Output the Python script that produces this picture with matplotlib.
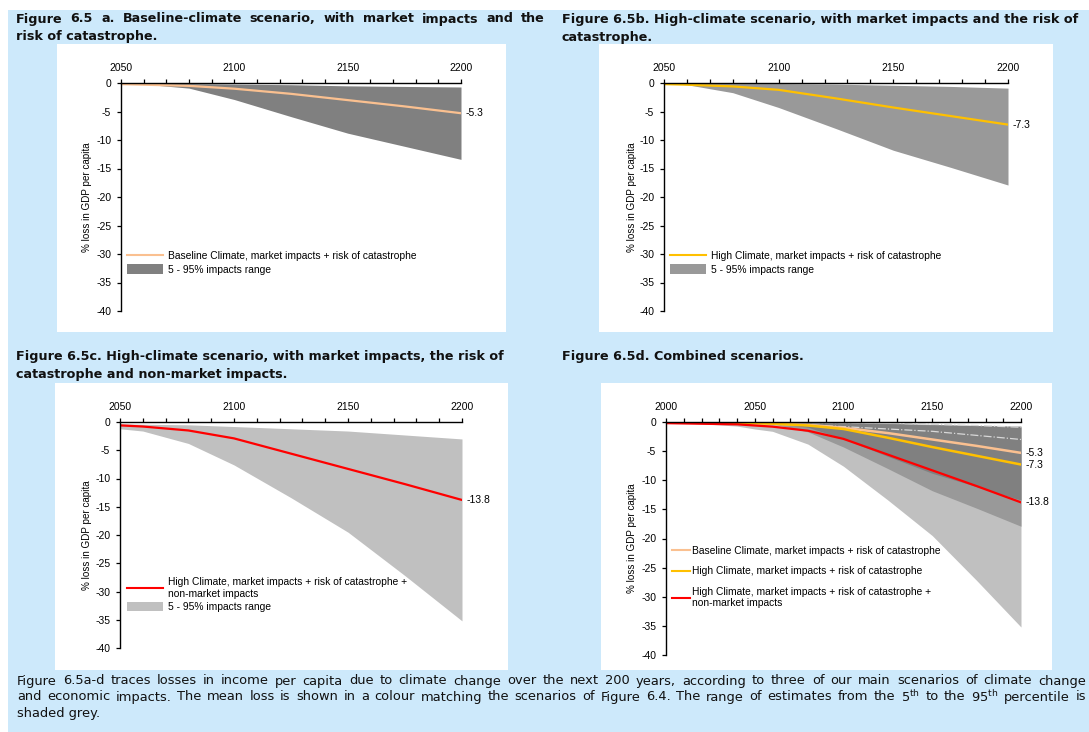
import matplotlib
matplotlib.use("Agg")
import matplotlib.pyplot as plt
from matplotlib.patches import Rectangle, Patch
from matplotlib.lines import Line2D

plt.rcParams['font.family'] = ['Liberation Sans', 'DejaVu Sans']
plt.rcParams['axes.unicode_minus'] = False

# --- data (% loss in GDP per capita) ---
years = [2050, 2060, 2080, 2100, 2125, 2150, 2175, 2200]

base_mean = [-0.2, -0.3, -0.5, -1.0, -1.9, -3.0, -4.1, -5.3]
base_p95 = [0.0, -0.2, -0.9, -2.9, -5.9, -8.8, -11.1, -13.4]
base_p5 = [0.0, 0.0, -0.1, -0.2, -0.3, -0.5, -0.6, -0.7]

high_mean = [-0.2, -0.3, -0.6, -1.2, -2.7, -4.3, -5.8, -7.3]
high_p95 = [0.0, -0.3, -1.7, -4.3, -8.0, -11.8, -14.8, -17.9]
high_p5 = [0.0, 0.0, -0.1, -0.1, -0.2, -0.4, -0.6, -0.9]

nonmkt_mean = [-0.6, -0.8, -1.5, -2.9, -5.6, -8.3, -11.0, -13.8]
nonmkt_p95 = [-1.2, -1.6, -3.8, -7.6, -13.4, -19.5, -27.2, -35.2]
nonmkt_p5 = [-0.3, -0.4, -0.5, -0.8, -1.2, -1.6, -2.3, -3.0]

# extra early years shown only in the combined panel
years_early = [2000, 2020, 2040]
base_mean_early = [-0.1, -0.1, -0.2]
high_mean_early = [-0.1, -0.1, -0.2]
nonmkt_mean_early = [-0.2, -0.3, -0.4]
base_p95_early = [0.0, 0.0, 0.0]
base_p5_early = [0.0, 0.0, 0.0]
high_p95_early = [0.0, 0.0, -0.1]
high_p5_early = [0.0, 0.0, 0.0]
nonmkt_p95_early = [-0.1, -0.3, -0.7]
nonmkt_p5_early = [0.0, -0.1, -0.2]

lbl_base = 'Baseline Climate, market impacts + risk of catastrophe'
lbl_high = 'High Climate, market impacts + risk of catastrophe'
lbl_nonmkt = 'High Climate, market impacts + risk of catastrophe +\nnon-market impacts'
lbl_range = '5 - 95% impacts range'
ylabel = '% loss in GDP per capita'

titles = {
    'a': ['Figure 6.5  a. Baseline-climate scenario, with market impacts and the',
          'risk of catastrophe.'],
    'b': ['Figure 6.5b. High-climate scenario, with market impacts and the risk of',
          'catastrophe.'],
    'c': ['Figure 6.5c. High-climate scenario, with market impacts, the risk of',
          'catastrophe and non-market impacts.'],
    'd': ['Figure 6.5d. Combined scenarios.'],
}
caption = [
    'Figure 6.5a-d traces losses in income per capita due to climate change over the next 200 years, '
    'according to three of our main scenarios of climate change',
    'and economic impacts. The mean loss is shown in a colour matching the scenarios of Figure 6.4. '
    'The range of estimates from the 5$^{\\mathrm{th}}$ to the 95$^{\\mathrm{th}}$ percentile is',
    'shaded grey.',
]

c_base = '#fac090'
c_high = '#ffc000'
c_red = '#ff0000'
g_dark = '#808080'
g_mid = '#999999'
g_light = '#c0c0c0'
blue_bg = '#cde9fb'

W, H = 1089, 732
fig = plt.figure(figsize=(W / 100, H / 100), dpi=100)
fig.patch.set_facecolor('white')


def fx(x):
    return x / W


def fy(y):
    return 1 - y / H


def rect_px(x0, y0, x1, y1, color):
    fig.patches.append(Rectangle((fx(x0), fy(y1)), (x1 - x0) / W, (y1 - y0) / H,
                                 transform=fig.transFigure, facecolor=color,
                                 edgecolor='none', zorder=-5))


def axes_px(left, right, top, bottom):
    ax = fig.add_axes([fx(left), fy(bottom), (right - left) / W, (bottom - top) / H])
    ax.patch.set_visible(False)
    return ax


def justify(words_line, x0, x1, y, **kw):
    # spread the words of one line so it runs from x0 to x1 (pixels)
    r = fig.canvas.get_renderer()
    words = words_line.split()
    txts = [fig.text(0, fy(y), w, va='center', **kw) for w in words]
    widths = [t.get_window_extent(r).width for t in txts]
    gap = (x1 - x0 - sum(widths)) / (len(words) - 1)
    x = x0
    for t, w in zip(txts, widths):
        t.set_x(fx(x))
        x += w + gap


def style(ax, x0, x1):
    ax.set_xlim(x0, x1)
    ax.set_ylim(-40, 0)
    ax.xaxis.tick_top()
    ax.set_xticks(range(x0, x1 + 1, 50))
    ax.set_xticks(range(x0, x1 + 1, 10), minor=True)
    ax.set_yticks(range(-40, 1, 5))
    for s in ['bottom', 'right']:
        ax.spines[s].set_visible(False)
    for s in ['top', 'left']:
        ax.spines[s].set_linewidth(1.0)
    ax.tick_params(which='both', direction='out', length=3, width=0.9,
                   labelsize=7.5, pad=4)


def ylab(x, y):
    fig.text(fx(x), fy(y), ylabel, rotation=90, ha='center', va='center', fontsize=7.1)


def end_label(ax, xs, ys):
    ax.annotate(f'{ys[-1]:.1f}', xy=(xs[-1], ys[-1]), xytext=(3, 0),
                textcoords='offset points', va='center', fontsize=7.5,
                annotation_clip=False)


# backgrounds
rect_px(8, 10, W + 5, H + 5, blue_bg)
rect_px(57, 44, 506, 332, 'white')
rect_px(599, 44, 1053, 332, 'white')
rect_px(55, 383, 508, 670, 'white')
rect_px(601, 383, 1052, 670, 'white')

# titles
title_kw = dict(fontsize=9.2, fontweight='bold', color='#111111', family='DejaVu Sans')
justify(titles['a'][0], 16, 545, 19, **title_kw)
fig.text(fx(16), fy(36.5), titles['a'][1], va='center', **title_kw)
for key, xx, yy in [('b', 562, 19), ('c', 16, 357), ('d', 562, 357)]:
    for i, line in enumerate(titles[key]):
        fig.text(fx(xx), fy(yy + i * 18), line, va='center', **title_kw)

leg_kw = dict(frameon=False, fontsize=7.4, loc='upper left', borderpad=0,
              borderaxespad=0, handletextpad=0.45, handlelength=3.5,
              handleheight=1.05, labelspacing=0.3)

# panel a
ax = axes_px(121, 461, 83, 311)
ax.fill_between(years, base_p95, base_p5, color=g_dark, lw=0)
ax.plot(years, base_mean, color=c_base, lw=1.6)
style(ax, 2050, 2200)
end_label(ax, years, base_mean)
ylab(87, 197)
ax.legend([Line2D([], [], color=c_base, lw=1.5), Patch(facecolor=g_dark)],
          [lbl_base, lbl_range], bbox_to_anchor=(fx(127), fy(251)),
          bbox_transform=fig.transFigure, **leg_kw)

# panel b
ax = axes_px(664, 1008, 83, 311)
ax.fill_between(years, high_p95, high_p5, color=g_mid, lw=0)
ax.plot(years, high_mean, color=c_high, lw=1.6)
style(ax, 2050, 2200)
end_label(ax, years, high_mean)
ylab(632, 197)
ax.legend([Line2D([], [], color=c_high, lw=1.5), Patch(facecolor=g_mid)],
          [lbl_high, lbl_range], bbox_to_anchor=(fx(670), fy(251)),
          bbox_transform=fig.transFigure, **leg_kw)

# panel c
ax = axes_px(120, 462, 422, 648)
ax.fill_between(years, nonmkt_p95, nonmkt_p5, color=g_light, lw=0)
ax.plot(years, nonmkt_mean, color=c_red, lw=1.6)
style(ax, 2050, 2200)
end_label(ax, years, nonmkt_mean)
ylab(87, 535)
ax.legend([Line2D([], [], color=c_red, lw=1.5), Patch(facecolor=g_light)],
          [lbl_nonmkt, lbl_range], bbox_to_anchor=(fx(127), fy(577)),
          bbox_transform=fig.transFigure, **leg_kw)

# panel d (combined, from 2000)
yd = years_early + years
ax = axes_px(666, 1021, 422, 655)
ax.fill_between(yd, nonmkt_p95_early + nonmkt_p95, nonmkt_p5_early + nonmkt_p5,
                color=g_light, lw=0)
ax.fill_between(yd, high_p95_early + high_p95, high_p5_early + high_p5,
                color=g_mid, lw=0)
ax.fill_between(yd, base_p95_early + base_p95, base_p5_early + base_p5,
                color=g_dark, lw=0)
ax.plot(yd, nonmkt_p5_early + nonmkt_p5, color='#d8d8d8', lw=0.9, ls='-.')
ax.plot(yd, high_p5_early + high_p5, color='#d8d8d8', lw=0.9, ls='-.')
ax.plot(yd, base_mean_early + base_mean, color=c_base, lw=1.8)
ax.plot(yd, high_mean_early + high_mean, color=c_high, lw=1.8)
ax.plot(yd, nonmkt_mean_early + nonmkt_mean, color=c_red, lw=1.6)
style(ax, 2000, 2200)
for m in [base_mean, high_mean, nonmkt_mean]:
    end_label(ax, years, m)
ylab(632, 538)
ax.legend([Line2D([], [], color=c_base, lw=1.5), Line2D([], [], color=c_high, lw=1.5),
           Line2D([], [], color=c_red, lw=1.5)],
          [lbl_base, lbl_high, lbl_nonmkt], bbox_to_anchor=(fx(672), fy(546)),
          bbox_transform=fig.transFigure, frameon=False, fontsize=7.4, loc='upper left',
          borderpad=0, borderaxespad=0, handletextpad=0.15, handlelength=1.75,
          labelspacing=1.0)

# caption, first two lines justified
cap_kw = dict(fontsize=9.4, color='#111111', family='DejaVu Sans')
justify(caption[0], 17, 1086, 681, **cap_kw)
justify(caption[1], 17, 1086, 697, **cap_kw)
fig.text(fx(17), fy(713), caption[2], va='center', **cap_kw)

fig.savefig('out.png', dpi=100)
